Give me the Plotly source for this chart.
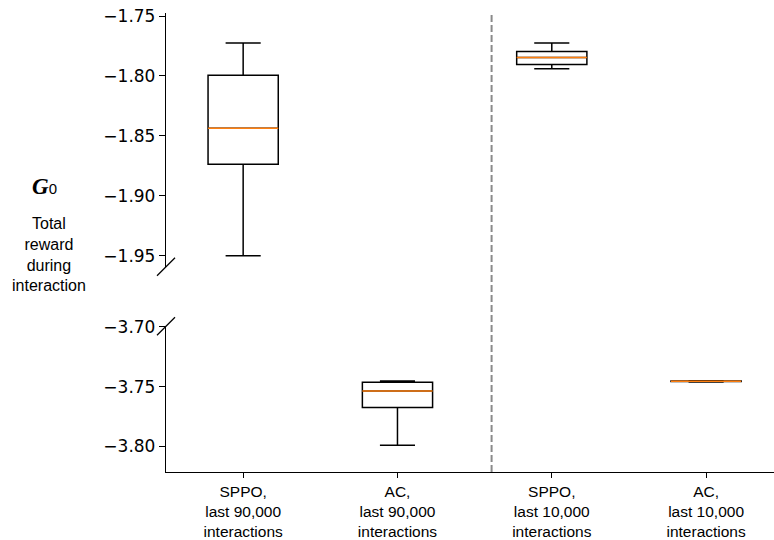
import plotly.graph_objects as go

# ---- data ----
categories = [
    "SPPO,<br>last 90,000<br>interactions",
    "AC,<br>last 90,000<br>interactions",
    "SPPO,<br>last 10,000<br>interactions",
    "AC,<br>last 10,000<br>interactions",
]
positions = [1, 2, 3, 4]
upper_whisker = [-1.7725, -3.7454, -1.7726, -3.7451]
q3_values = [-1.7993, -3.7463, -1.7795, -3.7453]
median_values = [-1.8436, -3.7537, -1.7847, -3.7456]
q1_values = [-1.8737, -3.7675, -1.7905, -3.7458]
lower_whisker = [-1.9498, -3.7992, -1.7940, -3.7461]
panels = ["y", "y2", "y", "y2"]  # top panel / bottom panel of the broken axis

box_width = 0.455
divider_x = 2.61

fig = go.Figure()

for i in range(len(positions)):
    fig.add_trace(go.Box(
        x=[positions[i]],
        q1=[q1_values[i]], median=[median_values[i]], q3=[q3_values[i]],
        lowerfence=[lower_whisker[i]], upperfence=[upper_whisker[i]],
        width=box_width, whiskerwidth=0.5,
        boxpoints=False,
        line=dict(color="black", width=1.5),
        fillcolor="rgba(0,0,0,0)",
        xaxis="x", yaxis=panels[i],
        showlegend=False, hoverinfo="skip",
    ))

for i in range(len(positions)):
    fig.add_trace(go.Scatter(
        x=[positions[i] - box_width / 2, positions[i] + box_width / 2],
        y=[median_values[i], median_values[i]],
        mode="lines", line=dict(color="#ff7f0e", width=1.5),
        xaxis="x", yaxis=panels[i],
        showlegend=False, hoverinfo="skip",
    ))

top_domain = [0.4471, 1.0]
bottom_domain = [0.0, 0.3175]

tick_font = dict(family="DejaVu Sans", size=17, color="black")

fig.update_layout(
    width=774, height=540,
    margin=dict(l=166, r=0, t=13, b=64),
    paper_bgcolor="white", plot_bgcolor="white",
    xaxis=dict(
        range=[0.5, 4.44], anchor="y2",
        tickmode="array", tickvals=positions, ticktext=categories,
        ticks="outside", ticklen=5, tickwidth=1.2, tickcolor="black",
        showline=True, linecolor="black", linewidth=1.3,
        showgrid=False, zeroline=False,
        tickfont=dict(family="Liberation Sans, Arial", size=15.5, color="black"),
    ),
    yaxis=dict(
        domain=top_domain, range=[-1.9591, -1.7475], anchor="x",
        tick0=-1.75, dtick=0.05, tickformat=".2f",
        ticks="outside", ticklen=6, tickwidth=1.2, tickcolor="black",
        showline=True, linecolor="black", linewidth=1.3,
        showgrid=False, zeroline=False, tickfont=tick_font,
    ),
    yaxis2=dict(
        domain=bottom_domain, range=[-3.8215, -3.6995], anchor="x",
        tick0=-3.70, dtick=0.05, tickformat=".2f",
        ticks="outside", ticklen=6, tickwidth=1.2, tickcolor="black",
        showline=True, linecolor="black", linewidth=1.3,
        showgrid=False, zeroline=False, tickfont=tick_font,
    ),
)

# dashed divider across both panels
fig.add_shape(type="line", xref="x", yref="paper", x0=divider_x, x1=divider_x,
              y0=0, y1=1, line=dict(color="#8a8a8a", width=2, dash="7px,3px"))

# break marks on the left spine
for yy in [top_domain[0], bottom_domain[1]]:
    fig.add_shape(type="line", xref="paper", yref="paper",
                  xsizemode="pixel", ysizemode="pixel", xanchor=0, yanchor=yy,
                  x0=-9, x1=9, y0=-9, y1=9,
                  line=dict(color="black", width=1.3))

# y-axis label
fig.add_annotation(xref="paper", yref="paper", x=-0.200, y=0.622,
                   text="<b><i>G</i></b><span style='font-family:Liberation Sans;font-size:15px'>0</span>",
                   showarrow=False, xanchor="center", yanchor="middle",
                   font=dict(family="Liberation Serif", size=23, color="black"))
fig.add_annotation(xref="paper", yref="paper", x=-0.193, y=0.473,
                   text="Total<br>reward<br>during<br>interaction",
                   showarrow=False, xanchor="center", yanchor="middle",
                   font=dict(family="Liberation Sans, Arial", size=16, color="black"))

fig.write_html("out.html")
